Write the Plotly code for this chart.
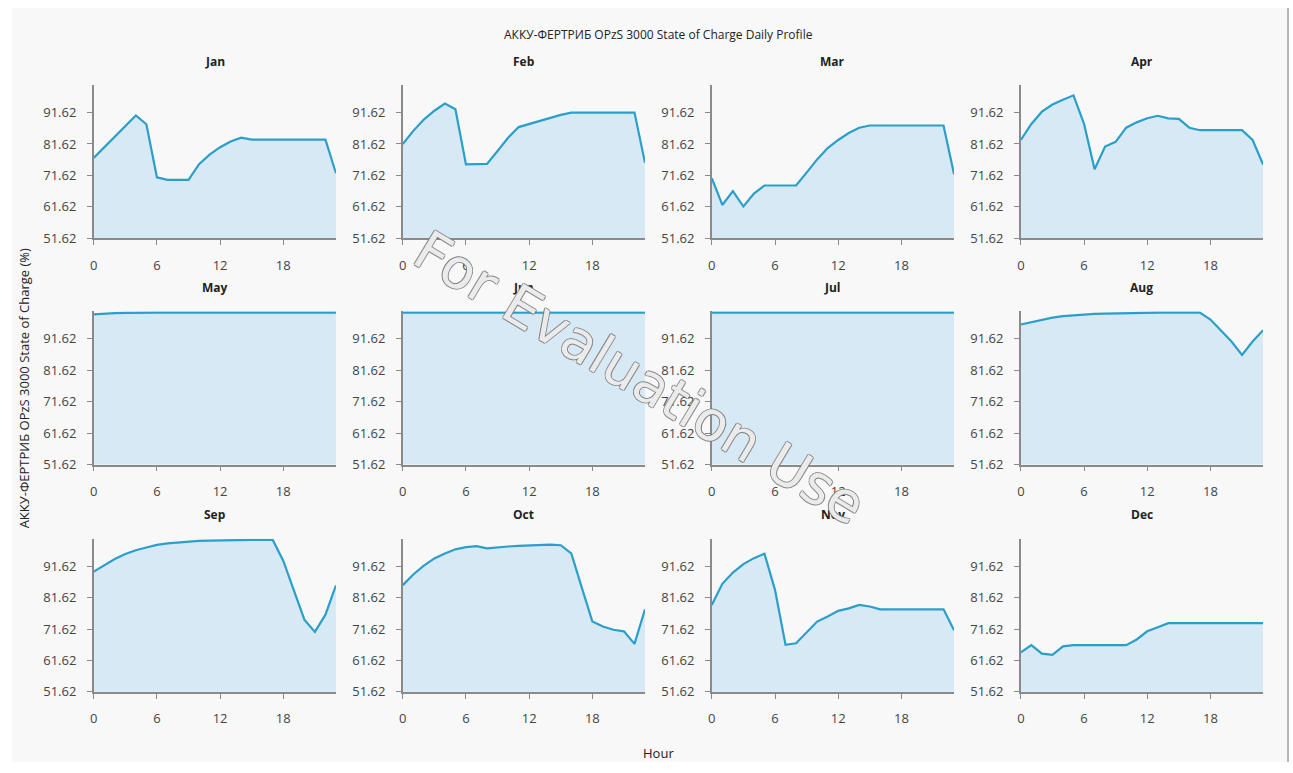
import plotly.graph_objects as go

# Hourly state of charge (%) for each month, hours 0..23
hours = list(range(24))
months = ["Jan", "Feb", "Mar", "Apr", "May", "Jun",
          "Jul", "Aug", "Sep", "Oct", "Nov", "Dec"]

soc_jan = [77.2, 80.6, 84.0, 87.4, 90.7, 87.9, 71.0, 70.2, 70.2, 70.2, 75.2, 78.2,
           80.6, 82.4, 83.6, 83.0, 83.0, 83.0, 83.0, 83.0, 83.0, 83.0, 83.0, 72.3]
soc_feb = [81.6, 85.8, 89.4, 92.2, 94.5, 92.7, 75.1, 75.1, 75.3, 79.4, 83.6, 87.0,
           88.0, 89.0, 90.0, 90.9, 91.6, 91.6, 91.6, 91.6, 91.6, 91.6, 91.6, 75.6]
soc_mar = [70.7, 62.2, 66.6, 61.7, 65.8, 68.4, 68.4, 68.4, 68.4, 72.5, 76.7, 80.3,
           82.9, 85.1, 86.8, 87.5, 87.5, 87.5, 87.5, 87.5, 87.5, 87.5, 87.5, 72.0]
soc_apr = [82.9, 88.0, 91.9, 94.2, 95.7, 97.1, 88.0, 73.6, 80.8, 82.3, 86.8, 88.5,
           89.8, 90.6, 89.8, 89.6, 86.8, 86.0, 86.0, 86.0, 86.0, 86.0, 82.9, 75.1]
soc_may = [99.4, 99.7, 99.8, 99.9, 100.0, 100.0, 100.0, 100.0, 100.0, 100.0, 100.0, 100.0,
           100.0, 100.0, 100.0, 100.0, 100.0, 100.0, 100.0, 100.0, 100.0, 100.0, 100.0, 100.0]
soc_jun = [100.0] * 24
soc_jul = [100.0] * 24
soc_aug = [96.2, 97.0, 97.8, 98.4, 98.9, 99.2, 99.5, 99.6, 99.7, 99.8, 99.9, 99.9,
           100.0, 100.0, 100.0, 100.0, 100.0, 100.0, 97.8, 94.4, 90.8, 86.5, 90.8, 94.4]
soc_sep = [89.9, 91.9, 93.9, 95.5, 96.7, 97.6, 98.4, 98.9, 99.2, 99.5, 99.7, 99.8,
           99.9, 100.0, 100.0, 100.0, 100.0, 100.0, 93.3, 84.0, 74.6, 70.7, 76.2, 85.5]
soc_oct = [85.6, 89.0, 91.8, 94.1, 95.7, 97.0, 97.7, 98.0, 97.3, 97.7, 97.9, 98.1,
           98.3, 98.4, 98.5, 98.3, 95.7, 84.8, 74.0, 72.4, 71.4, 70.9, 66.9, 77.9]
soc_nov = [79.3, 86.0, 89.6, 92.3, 94.2, 95.6, 84.1, 66.6, 67.1, 70.7, 74.0, 75.6,
           77.4, 78.2, 79.3, 78.8, 77.9, 77.9, 77.9, 77.9, 77.9, 77.9, 77.9, 71.2]
soc_dec = [64.2, 66.5, 63.8, 63.4, 66.1, 66.5, 66.5, 66.5, 66.5, 66.5, 66.5, 68.3,
           70.9, 72.2, 73.5, 73.5, 73.5, 73.5, 73.5, 73.5, 73.5, 73.5, 73.5, 73.5]

series = [soc_jan, soc_feb, soc_mar, soc_apr, soc_may, soc_jun,
          soc_jul, soc_aug, soc_sep, soc_oct, soc_nov, soc_dec]

y_ticks = [51.62, 61.62, 71.62, 81.62, 91.62]
x_ticks = [0, 6, 12, 18]

W, H = 1293, 773
FONT = "Open Sans, Segoe UI, sans-serif"
LINE = "#2b9fca"
FILL = "#d7e9f4"
AXIS = "#8a8a8a"

# Pixel layout of the 4x3 grid of panels
col_left = [90, 400, 710, 1020]
panel_w = 243
row_top = [86, 315, 545]
panel_h = 155

fig = go.Figure()
layout = {}
annotations = []

for i, (name, vals) in enumerate(zip(months, series)):
    r, c = divmod(i, 4)
    n = i + 1
    xa = "x" if n == 1 else f"x{n}"
    ya = "y" if n == 1 else f"y{n}"
    fig.add_trace(go.Scatter(
        x=hours, y=vals, mode="lines", xaxis=xa, yaxis=ya,
        line=dict(color=LINE, width=2.2), fill="tozeroy", fillcolor=FILL,
        showlegend=False, hoverinfo="x+y"))

    x0 = col_left[c] / W
    x1 = (col_left[c] + panel_w) / W
    y1 = 1 - row_top[r] / H
    y0 = 1 - (row_top[r] + panel_h) / H

    axis_common = dict(showgrid=False, zeroline=False, showline=True,
                       linecolor=AXIS, linewidth=1.5, ticks="outside",
                       ticklen=5, tickcolor=AXIS,
                       tickfont=dict(family=FONT, size=13, color="#444444"))
    layout["xaxis" if n == 1 else f"xaxis{n}"] = dict(
        domain=[x0, x1], anchor=ya, range=[0, 23], tickvals=x_ticks,
        ticklabelstandoff=9, **axis_common)
    layout["yaxis" if n == 1 else f"yaxis{n}"] = dict(
        domain=[y0, y1], anchor=xa, range=[51.62, 100.4], tickvals=y_ticks,
        ticktext=[f"{v:.2f}" for v in y_ticks], ticklabelstandoff=8,
        **axis_common)

    annotations.append(dict(
        text=f"<b>{name}</b>", xref="paper", yref="paper",
        x=(x0 + x1) / 2, y=1 - (row_top[r] - 24) / H,
        xanchor="center", yanchor="middle", showarrow=False,
        font=dict(family=FONT, size=12, color="#222222")))

# Overall titles
annotations.append(dict(
    text="АККУ-ФЕРТРИБ OPzS 3000 State of Charge Daily Profile",
    xref="paper", yref="paper", x=657 / W, y=1 - 35 / H,
    xanchor="center", yanchor="middle", showarrow=False,
    font=dict(family=FONT, size=12, color="#222222")))
annotations.append(dict(
    text="Hour", xref="paper", yref="paper", x=657 / W, y=1 - 762 / H,
    xanchor="center", yanchor="middle", showarrow=False,
    font=dict(family=FONT, size=13, color="#222222")))
annotations.append(dict(
    text="АККУ-ФЕРТРИБ OPzS 3000 State of Charge (%)",
    xref="paper", yref="paper", x=20 / W, y=1 - 393 / H,
    xanchor="center", yanchor="middle", showarrow=False, textangle=-90,
    font=dict(family=FONT, size=13, color="#222222")))

# Evaluation watermark (outlined lettering)
outline = ", ".join(f"{dx}px {dy}px 0 #7a7a7a" for dx, dy in
                    [(1, 0), (-1, 0), (0, 1), (0, -1)])
annotations.append(dict(
    text="For Evaluation Use", xref="paper", yref="paper",
    x=638 / W, y=1 - 382 / H, xanchor="center", yanchor="middle",
    showarrow=False, textangle=31,
    font=dict(family="DejaVu Sans, sans-serif", size=55,
              color="rgba(255,255,255,0.85)", shadow=outline)))

fig.update_layout(
    width=W, height=H, autosize=False,
    margin=dict(l=0, r=0, t=0, b=0),
    paper_bgcolor="white", plot_bgcolor="rgba(0,0,0,0)",
    annotations=annotations,
    shapes=[
        dict(type="rect", xref="paper", yref="paper", layer="below",
             x0=8 / W, x1=1288 / W, y0=1 - 771 / H, y1=1 - 8 / H,
             fillcolor="#f8f8f8", line=dict(width=0)),
        dict(type="line", xref="paper", yref="paper",
             x0=1288 / W, x1=1288 / W, y0=1 - 771 / H, y1=1 - 8 / H,
             line=dict(color="#a0a0a0", width=1.5)),
    ],
    **layout,
)

fig.write_html("out.html")
